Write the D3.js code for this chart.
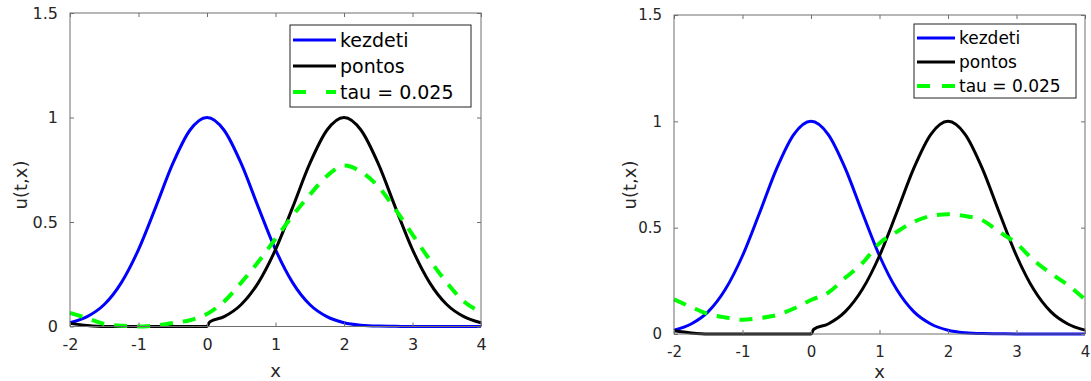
<!DOCTYPE html>
<html>
<head>
<meta charset="utf-8">
<script src="https://cdn.jsdelivr.net/npm/d3@7"></script>
<style>
  body { margin: 0; background: #fff; }
  svg text { font-family: "DejaVu Sans", sans-serif; }
</style>
</head>
<body>
<svg id="chart" width="1091" height="381"></svg>
<script>
// sample points
const xGrid = [-2, -1.75, -1.5, -1.25, -1, -0.75, -0.5, -0.25, 0, 0.25, 0.5, 0.75, 1,
               1.25, 1.5, 1.75, 2, 2.25, 2.5, 2.75, 3, 3.25, 3.5, 3.75, 4];

const kezdeti = [0.018, 0.047, 0.105, 0.21, 0.368, 0.57, 0.779, 0.939, 1, 0.939, 0.779, 0.57, 0.368,
                 0.21, 0.105, 0.047, 0.018, 0.006, 0.002, 0.001, 0, 0, 0, 0, 0];

const pontosX = [-2, -1.75, -1.5, -1, -0.5, 0, 0.04, 0.25, 0.5, 0.75, 1, 1.25, 1.5, 1.75,
                 2, 2.25, 2.5, 2.75, 3, 3.25, 3.5, 3.75, 4];
const pontos = [0.015, 0.005, 0, 0, 0, 0, 0.022, 0.047, 0.105, 0.21, 0.368, 0.57, 0.779, 0.939,
                1, 0.939, 0.779, 0.57, 0.368, 0.21, 0.105, 0.047, 0.018];

// tau = 0.025, left panel
const tauLeft = [0.065, 0.04, 0.012, 0.004, 0, 0.005, 0.017, 0.03, 0.06, 0.12, 0.21, 0.31, 0.42,
                 0.53, 0.63, 0.72, 0.77, 0.74, 0.67, 0.56, 0.44, 0.32, 0.21, 0.12, 0.07];
// tau = 0.025, right panel
const tauRight = [0.163, 0.127, 0.094, 0.078, 0.067, 0.075, 0.089, 0.12, 0.16, 0.194, 0.264, 0.333, 0.427,
                  0.48, 0.527, 0.555, 0.563, 0.555, 0.535, 0.48, 0.426, 0.347, 0.285, 0.23, 0.163];

const xTicks = [-2, -1, 0, 1, 2, 3, 4];
const yTicks = [0, 0.5, 1, 1.5];
const legendLabels = ["kezdeti", "pontos", "tau = 0.025"];

const svg = d3.select("#chart");
const fmt = d => String(d);

function drawPanel(p) {
  const x = d3.scaleLinear().domain([-2, 4]).range([p.left, p.right]);
  const y = d3.scaleLinear().domain([0, 1.5]).range([p.bottom, p.top]);
  const g = svg.append("g");

  const line = d3.line().x(d => x(d[0])).y(d => y(d[1])).curve(d3.curveMonotoneX);

  // curves
  g.append("path")
    .datum(xGrid.map((v, i) => [v, kezdeti[i]]))
    .attr("d", line).attr("fill", "none")
    .attr("stroke", "#0000ff").attr("stroke-width", 3);

  g.append("path")
    .datum(pontosX.map((v, i) => [v, pontos[i]]))
    .attr("d", line).attr("fill", "none")
    .attr("stroke", "#000").attr("stroke-width", 3);

  g.append("path")
    .datum(xGrid.map((v, i) => [v, p.tau[i]]))
    .attr("d", line).attr("fill", "none")
    .attr("stroke", "#00ff00").attr("stroke-width", 4)
    .attr("stroke-dasharray", "13,10");

  // box
  g.append("rect")
    .attr("x", p.left).attr("y", p.top)
    .attr("width", p.right - p.left).attr("height", p.bottom - p.top)
    .attr("fill", "none").attr("stroke", "#6f6f6f").attr("stroke-width", 1);

  // axes with inward ticks
  const axCol = "#6f6f6f";
  const xb = g.append("g").attr("transform", `translate(0,${p.bottom})`)
    .call(d3.axisBottom(x).tickValues(xTicks).tickFormat(fmt).tickSizeInner(-4).tickSizeOuter(0).tickPadding(12));
  const xt = g.append("g").attr("transform", `translate(0,${p.top})`)
    .call(d3.axisTop(x).tickValues(xTicks).tickSizeInner(-4).tickSizeOuter(0).tickFormat(""));
  const yl = g.append("g").attr("transform", `translate(${p.left},0)`)
    .call(d3.axisLeft(y).tickValues(yTicks).tickFormat(fmt).tickSizeInner(-4).tickSizeOuter(0).tickPadding(12));
  const yr = g.append("g").attr("transform", `translate(${p.right},0)`)
    .call(d3.axisRight(y).tickValues(yTicks).tickSizeInner(-4).tickSizeOuter(0).tickFormat(""));
  [xb, xt, yl, yr].forEach(a => {
    a.select(".domain").remove();
    a.selectAll("line").attr("stroke", axCol);
    a.selectAll("text").attr("fill", "#262626").style("font-size", p.tickFont + "px");
  });

  // axis labels
  g.append("text").attr("x", x(1)).attr("y", p.xLabelY)
    .attr("text-anchor", "middle").attr("fill", "#262626")
    .style("font-size", "18px").text("x");
  g.append("text")
    .attr("transform", `translate(${p.yLabelX},${p.yLabelY}) rotate(-90)`)
    .attr("text-anchor", "middle").attr("fill", "#262626")
    .style("font-size", "18px").text("u(t,x)");

  // legend
  const L = p.legend;
  g.append("rect").attr("x", L.x).attr("y", L.y).attr("width", L.w).attr("height", L.h)
    .attr("fill", "#fff").attr("stroke", "#222").attr("stroke-width", 1);
  const styles = [
    { c: "#0000ff", w: 3, dash: null },
    { c: "#000", w: 3, dash: null },
    { c: "#00ff00", w: 4, dash: L.dash }
  ];
  legendLabels.forEach((lab, i) => {
    const cy = L.y + L.first + i * L.step;
    g.append("line").attr("x1", L.x + 3).attr("x2", L.x + 3 + L.sample)
      .attr("y1", cy).attr("y2", cy)
      .attr("stroke", styles[i].c).attr("stroke-width", styles[i].w)
      .attr("stroke-dasharray", styles[i].dash);
    g.append("text").attr("x", L.x + L.sample + 7).attr("y", cy)
      .attr("dy", "0.35em").attr("fill", "#000")
      .style("font-size", L.font + "px").text(lab);
  });
}

drawPanel({
  left: 70, right: 481, top: 13, bottom: 326.5, tau: tauLeft, tickFont: 16,
  xLabelY: 377, yLabelX: 27, yLabelY: 185,
  legend: { x: 290, y: 25, w: 181, h: 82, first: 15, step: 26, sample: 43, font: 19, dash: "13,20" }
});

drawPanel({
  left: 674, right: 1085, top: 15, bottom: 334, tau: tauRight, tickFont: 15,
  xLabelY: 378, yLabelX: 636, yLabelY: 185,
  legend: { x: 914, y: 24, w: 162, h: 74, first: 14, step: 24, sample: 38, font: 17, dash: "13,12" }
});
</script>
</body>
</html>
